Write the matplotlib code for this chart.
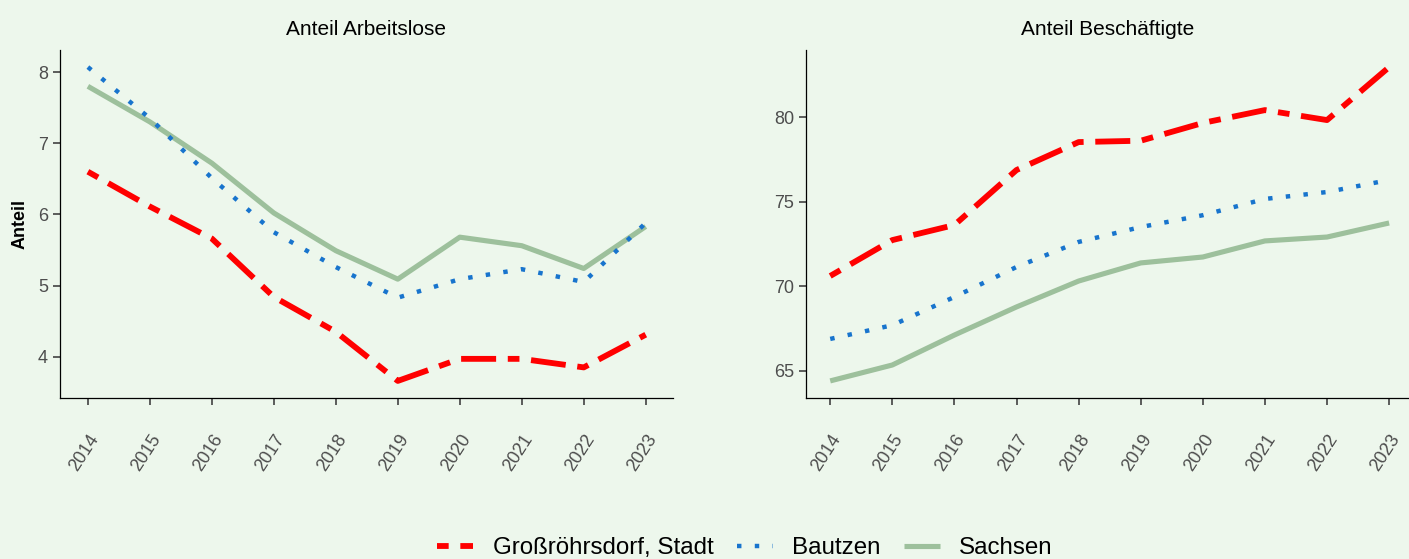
import numpy as np
import matplotlib.pyplot as plt
from matplotlib.lines import Line2D

plt.rcParams['font.family'] = ['Liberation Sans', 'DejaVu Sans']

# years on the x axis
years = [2014, 2015, 2016, 2017, 2018, 2019, 2020, 2021, 2022, 2023]

# Anteil Arbeitslose (in %)
arbeitslose_gross = [6.60, 6.11, 5.66, 4.84, 4.35, 3.66, 3.97, 3.97, 3.85, 4.31]
arbeitslose_bautzen = [8.07, 7.35, 6.51, 5.75, 5.26, 4.83, 5.09, 5.23, 5.05, 5.88]
arbeitslose_sachsen = [7.80, 7.30, 6.72, 6.02, 5.49, 5.09, 5.68, 5.56, 5.24, 5.83]

# Anteil Beschaeftigte (in %)
besch_gross = [70.61, 72.73, 73.62, 76.87, 78.52, 78.60, 79.65, 80.41, 79.82, 82.95]
besch_bautzen = [66.89, 67.70, 69.37, 71.14, 72.62, 73.50, 74.20, 75.16, 75.57, 76.28]
besch_sachsen = [64.41, 65.35, 67.12, 68.78, 70.31, 71.38, 71.73, 72.68, 72.91, 73.74]

series_names = ['Großröhrsdorf, Stadt', 'Bautzen', 'Sachsen']

bg = '#edf7ec'
red = '#ff0000'
blue = '#1874cd'
green = '#9dc09c'

W, H = 1409, 559
fig = plt.figure(figsize=(W / 100, H / 100), dpi=100, facecolor=bg)

ax1 = fig.add_axes([60 / W, 1 - 398 / H, 613 / W, 348 / H])
ax2 = fig.add_axes([806 / W, 1 - 398 / H, 603 / W, 348 / H])


def draw(ax, gross, bautzen, sachsen):
    ax.plot(years, sachsen, color=green, lw=3.7, solid_capstyle='butt')
    ax.plot(years, bautzen, color=blue, lw=3.2, dashes=(1, 3), dash_capstyle='butt')
    ax.plot(years, gross, color=red, lw=4.2, dashes=(2, 2, 6, 2), dash_capstyle='butt')


draw(ax1, arbeitslose_gross, arbeitslose_bautzen, arbeitslose_sachsen)
draw(ax2, besch_gross, besch_bautzen, besch_sachsen)

ax1.set_xlim(2013.55, 2023.44)
ax1.set_ylim(3.42, 8.31)
ax1.set_yticks([4, 5, 6, 7, 8])
ax2.set_xlim(2013.61, 2023.32)
ax2.set_ylim(63.4, 83.96)
ax2.set_yticks([65, 70, 75, 80])

for ax, title in [(ax1, 'Anteil Arbeitslose'), (ax2, 'Anteil Beschäftigte')]:
    ax.set_facecolor(bg)
    for s in ['top', 'right']:
        ax.spines[s].set_visible(False)
    for s in ['left', 'bottom']:
        ax.spines[s].set_linewidth(0.9)
        ax.spines[s].set_color('black')
    ax.set_xticks(years)
    ax.set_xticklabels([str(y) for y in years], rotation=57, ha='right', va='top',
                       rotation_mode='anchor')
    ax.tick_params(axis='both', length=4.7, width=1.1, color='#333333',
                   labelcolor='#4d4d4d', labelsize=13)
    ax.tick_params(axis='x', pad=19)
    ax.tick_params(axis='y', pad=4)
    ax.set_title(title, fontsize=15, pad=11)

ax1.set_ylabel('Anteil', fontsize=13, fontweight='bold', labelpad=7)

handles = [
    Line2D([], [], color=red, lw=4.2, dashes=(2, 2, 6, 2), dash_capstyle='butt'),
    Line2D([], [], color=blue, lw=3.2, dashes=(1, 3), dash_capstyle='butt'),
    Line2D([], [], color=green, lw=3.7, solid_capstyle='butt'),
]
fig.legend(handles, series_names, loc='center', bbox_to_anchor=(745 / W, 1 - 548 / H),
           ncol=3, frameon=False, fontsize=17.4, handlelength=1.5, handletextpad=0.8,
           columnspacing=0.95)

fig.savefig('out.png', dpi=100, facecolor=bg)
